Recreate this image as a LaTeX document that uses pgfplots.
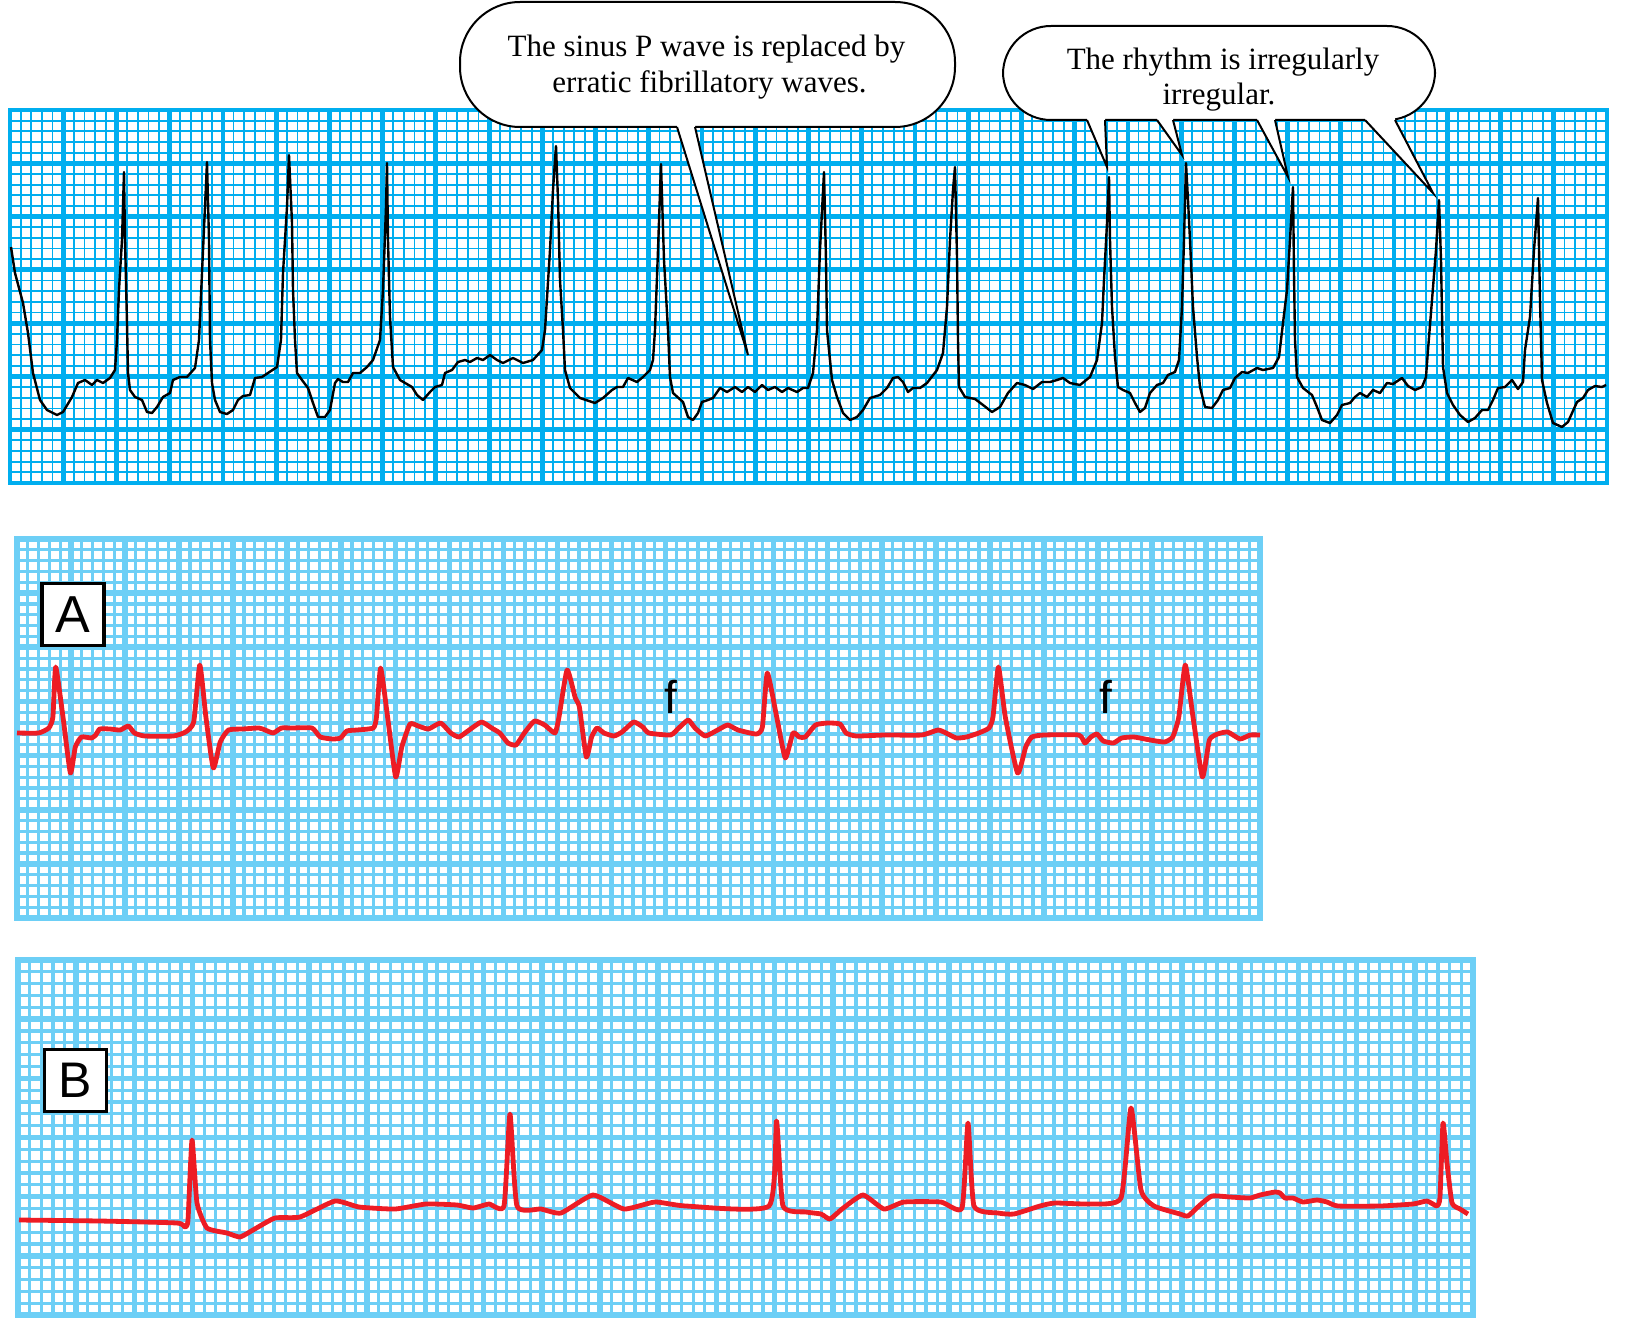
\documentclass[border=0pt]{standalone}
\usepackage{fontspec}
\setmainfont{Liberation Serif}
\newfontfamily\sans{Liberation Sans}
\usepackage{pgfplots}
\pgfplotsset{compat=1.18}

\definecolor{topgrid}{HTML}{00AEEF}
\definecolor{lightgrid}{HTML}{6DCFF6}
\definecolor{ecgred}{HTML}{ED1C24}

% one strip of ECG paper, coordinates are pixels of the original figure
\pgfplotsset{
  ecg/.style={
    scale only axis, anchor=north west, y dir=reverse,
    xticklabels={}, yticklabels={},
    major tick length=0pt, minor tick length=0pt,
    grid=both, minor x tick num=4, minor y tick num=4,
  },
  darkpaper/.style={ecg,
    major grid style={draw=topgrid, line width=2.4pt},
    minor grid style={draw=topgrid, line width=0.9pt},
    axis line style={draw=topgrid, line width=2.4pt}},
  lightpaper/.style={ecg,
    major grid style={draw=lightgrid, line width=2.8pt},
    minor grid style={draw=lightgrid, line width=1.6pt},
    axis line style={draw=lightgrid, line width=2.8pt}},
  redtrace/.style={ecgred, line width=2.4pt, line join=round, smooth, tension=0.3},
}

\begin{document}
\begin{tikzpicture}

% top strip
\begin{axis}[darkpaper, at={(5pt,-55pt)}, width=798.5pt, height=186.5pt,
  xmin=10, xmax=1607, ymin=110, ymax=483,
  xtick={10,63.2333,...,1607}, ytick={110,163.2857,...,483}]
\addplot[black, line width=1.2pt, line join=round] coordinates {
(11,247) (15,273) (23,303) (28,333) (33,373) (40,400) (47,410) (57,415) (63,412)
(72,397) (78,383) (85,380) (92,385) (97,380) (103,383) (110,378) (115,370)
(117,340) (119,290) (122,240) (124,172) (125,240) (127,323) (128,373) (130,390)
(135,397) (142,400) (147,412) (152,413) (157,407) (163,397) (170,393) (173,380)
(180,377) (187,377) (195,368) (199,340) (202,273) (205,207) (207,162) (209,240)
(210,340) (212,383) (215,400) (220,412) (227,414) (233,410) (238,400) (243,396)
(250,395) (255,378) (262,377) (268,373) (277,367) (281,340) (283,273) (287,207)
(289,155) (292,223) (293,290) (295,340) (297,373) (302,380) (308,388) (313,403)
(318,417) (325,417) (330,410) (335,383) (338,379) (343,382) (348,382) (353,373)
(360,373) (367,367) (373,360) (380,340) (383,290) (386,207) (387,163) (388,240)
(390,317) (393,367) (400,380) (412,387) (417,395) (423,400) (430,392) (435,387)
(442,385) (445,373) (452,370) (458,362) (465,360) (470,362) (477,358) (483,360)
(490,355) (497,360) (503,363) (513,358) (523,363) (533,360) (542,350) (545,330)
(550,250) (553,190) (556,146) (558,200) (560,280) (563,330) (565,370) (570,388)
(580,398) (595,403) (603,398) (612,390) (617,387) (623,387) (628,378) (637,382)
(643,377) (650,370) (653,360) (655,330) (658,250) (661,164) (664,260) (668,330)
(670,377) (673,393) (683,402) (688,417) (693,420) (698,413) (702,402) (708,400)
(713,398) (720,388) (727,392) (735,387) (742,392) (748,387) (755,392) (762,385)
(768,390) (775,387) (782,392) (788,388) (797,392) (803,388) (808,388) (813,373)
(817,330) (820,250) (824,172) (826,260) (827,330) (832,380) (837,397) (843,413)
(850,420) (857,417) (863,410) (870,398) (880,395) (887,388) (893,378) (898,377)
(903,382) (908,392) (913,388) (920,388) (927,383) (937,370) (943,353) (947,307)
(950,240) (953,190) (955,167) (957,257) (958,340) (959,387) (965,397) (975,399)
(983,405) (992,412) (1000,407) (1008,393) (1017,383) (1025,385) (1033,389)
(1042,382) (1050,382) (1057,380) (1063,378) (1070,383) (1080,385) (1090,377)
(1097,360) (1102,323) (1104,280) (1107,223) (1109,177) (1110,240) (1112,307)
(1115,357) (1118,387) (1123,390) (1130,393) (1135,403) (1140,412) (1145,408)
(1150,393) (1157,385) (1163,383) (1168,375) (1175,372) (1179,360) (1182,307)
(1184,240) (1186,163) (1188,200) (1190,240) (1193,307) (1197,357) (1200,387)
(1205,407) (1212,408) (1218,400) (1223,390) (1230,388) (1235,378) (1242,372)
(1248,373) (1257,368) (1263,370) (1273,368) (1279,357) (1283,323) (1287,290)
(1290,240) (1293,187) (1294,273) (1295,340) (1297,377) (1303,388) (1312,395)
(1317,407) (1322,420) (1330,423) (1337,415) (1342,405) (1350,403) (1355,397)
(1360,393) (1367,397) (1373,390) (1380,393) (1387,383) (1393,384) (1402,378)
(1408,386) (1415,390) (1422,387) (1426,377) (1428,350) (1432,300) (1436,250)
(1439,200) (1441,260) (1443,367) (1447,393) (1453,405) (1460,415) (1468,422)
(1475,418) (1482,410) (1488,410) (1493,400) (1498,388) (1505,387) (1512,380)
(1518,389) (1523,382) (1525,350) (1530,317) (1534,250) (1538,198) (1540,300)
(1542,380) (1547,403) (1553,423) (1562,427) (1568,422) (1577,402) (1583,398)
(1588,390) (1595,386) (1602,387) (1606,385)
};
\end{axis}

% strip A
\begin{axis}[lightpaper, at={(8.5pt,-269.5pt)}, width=621.5pt, height=189.5pt,
  xmin=17, xmax=1260, ymin=539, ymax=918,
  xtick={17,71.0435,...,1260}, ytick={539,593.1429,...,918}]
\addplot[redtrace] coordinates {
(17,733) (38.6,733) (48.8,728) (52.9,717) (55.7,667) (63,717) (70.4,773)
(75.3,747) (81.4,737) (91.6,738) (95.7,735) (99.8,729) (110,729) (120.2,730)
(128.4,726) (134.5,733) (144.7,736) (173.3,736) (185.5,732) (193.7,722)
(199.8,665) (205.9,717) (213.3,768) (220.2,742) (228.4,730) (242.7,729)
(259,728) (265.1,730) (273.3,733) (281.4,728) (291.6,728) (312,728) (320.2,737)
(332.4,739) (340.6,738) (346.7,731) (356.9,730) (373.3,728) (376.5,717)
(380.6,668) (387.6,717) (395.7,777) (401.8,747) (410,724) (418.2,726)
(428.4,729) (440.6,723) (450.8,733) (459,737) (469.2,730) (481.4,722)
(491.6,728) (499.8,733) (508,743) (516.1,745) (524.3,733) (534.5,721)
(544.7,725) (555,733) (559,717) (567.1,670) (575.3,698) (579.4,707) (586.3,757)
(591.6,737) (597,728) (604,733) (614,736) (622,732) (633.7,722) (642.7,727)
(648.8,733) (670.6,735) (678.8,728) (688.2,720) (695,728) (705.3,736)
(717.6,730) (727.8,725) (738,730) (756.3,734) (762.4,727) (767.3,673)
(776.7,717) (785.3,758) (793,733) (799.2,737) (805.3,737) (815.5,725)
(827.8,723) (840,724) (846.1,733) (856.3,736) (884.9,735) (921.6,735) (938,730)
(946,733) (956.3,738) (966.5,737) (978.8,733) (989,728) (993,717) (998.4,667)
(1005.3,717) (1017.6,773) (1025.7,747) (1031.8,737) (1044,735) (1078.8,735)
(1084.9,743) (1091,737) (1097,734) (1103.3,741) (1113.5,743) (1121.6,738)
(1133.9,737) (1150.2,740) (1164.5,742) (1172.7,737) (1178.8,717) (1185.3,665)
(1193,717) (1202.4,777) (1209.4,740) (1217.6,734) (1227.8,732) (1240,739)
(1250.2,735) (1260,735)
};
\end{axis}

% strip B
\begin{axis}[lightpaper, at={(9pt,-480pt)}, width=727.5pt, height=177.5pt,
  xmin=18, xmax=1473, ymin=960, ymax=1315,
  xtick={18,76.2,...,1473}, ytick={960,1019.1667,...,1315}]
\addplot[redtrace] coordinates {
(19,1220) (100,1221) (177,1223) (185,1227) (188,1220) (192,1140) (197,1203)
(207,1228) (227,1233) (240,1237) (253,1230) (275,1218) (300,1217) (335,1201)
(359,1207) (395,1209) (426,1204) (457,1205) (473,1208) (489,1204) (504,1206)
(510,1114) (517,1206) (541,1209) (561,1213) (593,1195) (624,1209) (655,1202)
(686,1206) (769,1206) (776.5,1121) (783,1206) (806,1212) (821,1214) (830,1219)
(842,1209) (863,1195) (884,1209) (904,1202) (941,1202) (962,1208) (968,1123)
(974,1206) (998,1213) (1014,1214) (1040,1206) (1055,1203) (1091,1204)
(1121,1198) (1131,1108) (1141,1190) (1154,1206) (1180,1214) (1188,1216)
(1200,1205) (1212,1196) (1230,1197) (1250,1198) (1260,1195) (1275,1192)
(1280,1193) (1285,1198) (1293,1198) (1303,1202) (1317,1200) (1327,1202)
(1338,1206) (1380,1206) (1413,1204) (1427,1201) (1437,1206) (1440,1197)
(1443,1123) (1447,1163) (1452,1203) (1460,1209) (1468,1214)
};
\end{axis}

\begin{scope}[x=0.5pt, y=-0.5pt, line width=1pt]
  % speech bubble 1
  \draw[fill=white, rounded corners=30pt] (460,2) rectangle (955,127);
  \fill[white] (677,121) -- (677,127) -- (748,355) -- (695,127) -- (695,121) -- cycle;
  \draw (677,127) -- (748,355) -- (695,127);
  \node[anchor=base, inner sep=0pt, font=\fontsize{15.5}{18}\selectfont]
    at (706.5,57) {The sinus P wave is replaced by};
  \node[anchor=base, inner sep=0pt, font=\fontsize{15.5}{18}\selectfont]
    at (709.5,93) {erratic fibrillatory waves.};
  % speech bubble 2
  \draw[fill=white, rounded corners=24pt] (1003,26) rectangle (1435,120);
  \foreach \a/\b/\tx/\ty in {1087/1105/1107/167, 1157/1173/1182/155,
                             1257/1275/1288/177, 1365/1395/1433/193} {
    \fill[white] (\a,114) -- (\a,120) -- (\tx,\ty) -- (\b,120) -- (\b,114) -- cycle;
    \draw (\a,120) -- (\tx,\ty) -- (\b,120);
  }
  \node[anchor=base, inner sep=0pt, font=\fontsize{15.5}{18}\selectfont]
    at (1223,70) {The rhythm is irregularly};
  \node[anchor=base, inner sep=0pt, font=\fontsize{15.5}{18}\selectfont]
    at (1219,105) {irregular.};
  % panel letters and fibrillation marks
  \node[draw, line width=1.6pt, fill=white, minimum width=31pt, minimum height=31pt,
    inner sep=0pt, font=\sans\fontsize{26}{26}\selectfont] at (73,614.5) {A};
  \node[draw, line width=1.6pt, fill=white, minimum width=31pt, minimum height=31pt,
    inner sep=0pt, font=\sans\fontsize{25}{25}\selectfont] at (75.5,1080.5) {B};
  \node[anchor=base, inner sep=0pt, font=\sans\fontsize{23}{23}\selectfont] at (671,713) {f};
  \node[anchor=base, inner sep=0pt, font=\sans\fontsize{23}{23}\selectfont] at (1106,713) {f};
\end{scope}

\pgfresetboundingbox
\path (0pt,0pt) rectangle (815pt,-663.5pt);
\end{tikzpicture}
\end{document}
